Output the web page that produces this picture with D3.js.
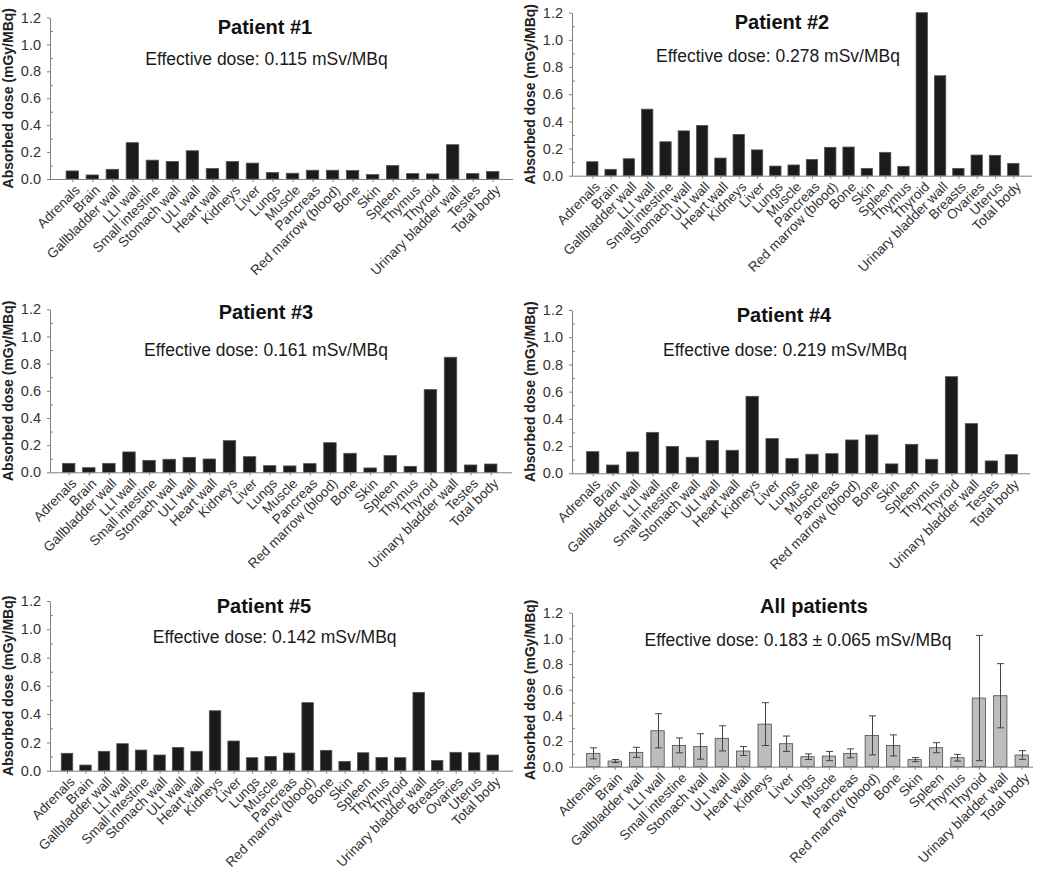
<!DOCTYPE html>
<html><head><meta charset="utf-8">
<script src="https://cdn.jsdelivr.net/npm/d3@7"></script>
<style>
body{margin:0;background:#fff}
svg{display:block}
text{font-family:"Liberation Sans",Arial,sans-serif}
</style>
</head><body>
<svg id="chart" width="1050" height="869"></svg>
<script>
// ---------- DATA ----------
const organsMale = ["Adrenals","Brain","Gallbladder wall","LLI wall","Small intestine","Stomach wall","ULI wall","Heart wall","Kidneys","Liver","Lungs","Muscle","Pancreas","Red marrow (blood)","Bone","Skin","Spleen","Thymus","Thyroid","Urinary bladder wall","Testes","Total body"];
const organsFemale = ["Adrenals","Brain","Gallbladder wall","LLI wall","Small intestine","Stomach wall","ULI wall","Heart wall","Kidneys","Liver","Lungs","Muscle","Pancreas","Red marrow (blood)","Bone","Skin","Spleen","Thymus","Thyroid","Urinary bladder wall","Breasts","Ovaries","Uterus","Total body"];
const organsAll = ["Adrenals","Brain","Gallbladder wall","LLI wall","Small intestine","Stomach wall","ULI wall","Heart wall","Kidneys","Liver","Lungs","Muscle","Pancreas","Red marrow (blood)","Bone","Skin","Spleen","Thymus","Thyroid","Urinary bladder wall","Total body"];

const patient1 = [0.060,0.030,0.072,0.270,0.140,0.130,0.210,0.078,0.130,0.118,0.048,0.043,0.065,0.065,0.063,0.033,0.100,0.040,0.038,0.255,0.040,0.055];
const patient2 = [0.103,0.047,0.125,0.490,0.250,0.330,0.370,0.130,0.304,0.190,0.071,0.079,0.120,0.209,0.211,0.054,0.172,0.069,1.200,0.736,0.054,0.152,0.150,0.091];
const patient3 = [0.066,0.034,0.066,0.150,0.088,0.096,0.110,0.098,0.233,0.115,0.049,0.047,0.064,0.218,0.140,0.032,0.123,0.044,0.609,0.847,0.054,0.061];
const patient4 = [0.159,0.061,0.157,0.301,0.198,0.118,0.242,0.169,0.566,0.255,0.108,0.140,0.144,0.245,0.282,0.069,0.213,0.103,0.710,0.365,0.091,0.137];
const patient5 = [0.123,0.040,0.137,0.191,0.146,0.111,0.165,0.137,0.424,0.210,0.092,0.101,0.125,0.481,0.144,0.066,0.127,0.094,0.092,0.554,0.073,0.130,0.127,0.111];
const meanAll = [0.104,0.044,0.112,0.280,0.166,0.158,0.221,0.122,0.332,0.179,0.078,0.083,0.104,0.244,0.166,0.055,0.148,0.070,0.535,0.553,0.091];
const sdAll   = [0.043,0.012,0.039,0.133,0.058,0.099,0.098,0.035,0.167,0.060,0.022,0.036,0.035,0.152,0.082,0.016,0.039,0.026,0.488,0.250,0.034];

const titles = ["Patient #1","Patient #2","Patient #3","Patient #4","Patient #5","All patients"];
const subtitles = ["Effective dose: 0.115 mSv/MBq","Effective dose: 0.278 mSv/MBq","Effective dose: 0.161 mSv/MBq","Effective dose: 0.219 mSv/MBq","Effective dose: 0.142 mSv/MBq","Effective dose: 0.183 \u00b1 0.065 mSv/MBq"];
const yTicks = [0,0.2,0.4,0.6,0.8,1.0,1.2];
const yMinor = [0.1,0.3,0.5,0.7,0.9,1.1];
const yLabel = "Absorbed dose (mGy/MBq)";

// ---------- LAYOUT ----------
const layout = [
  {x0:50,  x1:513,  c0:72.3,  c1:492.7,  yT:17.5, yB:179,   tx:265, ty:34,    sx:266.5, sy:65.3},
  {x0:572, x1:1032, c0:592.3, c1:1013.3, yT:12.7, yB:175.7, tx:782, ty:29,    sx:778,   sy:61.7},
  {x0:50,  x1:512,  c0:68.7,  c1:490.7,  yT:309.3,yB:472.3, tx:266, ty:319,   sx:266,   sy:356},
  {x0:572, x1:1030, c0:592.7, c1:1011.3, yT:310,  yB:473.3, tx:784, ty:322,   sx:785,   sy:355.7},
  {x0:50,  x1:513,  c0:67,    c1:492.7,  yT:601,  yB:770.7, tx:264, ty:612.7, sx:274.7, sy:643.3},
  {x0:572, x1:1033, c0:593.3, c1:1021.7, yT:612.7,yB:766.7, tx:814, ty:613.3, sx:798,   sy:646}
];

const panels = [
  {organs:organsMale,   values:patient1},
  {organs:organsFemale, values:patient2},
  {organs:organsMale,   values:patient3},
  {organs:organsMale,   values:patient4},
  {organs:organsFemale, values:patient5},
  {organs:organsAll,    values:meanAll, sd:sdAll}
];

const svg = d3.select("#chart");
const axisColor = "#808080";

panels.forEach((p, i) => {
  const L = layout[i];
  const g = svg.append("g");
  const y = d3.scaleLinear().domain([0,1.2]).range([L.yB, L.yT]);
  const x = d3.scalePoint().domain(p.organs).range([L.c0, L.c1]);
  const bw = x.step() * 0.62;
  const data = p.organs.map((o,k)=>({o, v:p.values[k], s:p.sd ? p.sd[k] : null}));

  // bars
  g.selectAll("rect.bar").data(data).join("rect")
    .attr("class","bar")
    .attr("x", d => x(d.o) - bw/2)
    .attr("y", d => y(d.v))
    .attr("width", bw)
    .attr("height", d => y(0) - y(d.v))
    .attr("fill", p.sd ? "#bdbdbd" : "#1b1b1b")
    .attr("stroke", p.sd ? "#4a4a4a" : "#555")
    .attr("stroke-width", 0.8);

  // error bars
  if (p.sd) {
    const eg = g.append("g").attr("stroke","#444").attr("stroke-width",1);
    const cw = 3.5;
    data.forEach(d => {
      const xc = Math.round(x(d.o)) + 0.5;
      eg.append("line").attr("x1",xc).attr("x2",xc).attr("y1",y(d.v+d.s)).attr("y2",y(d.v-d.s));
      eg.append("line").attr("x1",xc-cw).attr("x2",xc+cw).attr("y1",y(d.v+d.s)).attr("y2",y(d.v+d.s));
      eg.append("line").attr("x1",xc-cw).attr("x2",xc+cw).attr("y1",y(d.v-d.s)).attr("y2",y(d.v-d.s));
    });
  }

  // y axis
  const ya = g.append("g").attr("transform",`translate(${L.x0},0)`)
    .call(d3.axisLeft(y).tickValues(yTicks).tickFormat(d3.format(".1f")).tickSize(3).tickSizeOuter(0).tickPadding(6));
  ya.select(".domain").attr("stroke", axisColor);
  ya.selectAll(".tick line").attr("stroke", axisColor);
  ya.selectAll(".tick text").attr("fill","#333").style("font-size","14.5px");
  const ym = g.append("g").attr("transform",`translate(${L.x0},0)`)
    .call(d3.axisRight(y).tickValues(yMinor).tickFormat("").tickSize(3).tickSizeOuter(0));
  ym.select(".domain").remove();
  ym.selectAll(".tick line").attr("stroke", axisColor);

  // x axis
  const xa = g.append("g").attr("transform",`translate(0,${L.yB})`)
    .call(d3.axisBottom(x).tickSize(3).tickSizeOuter(0));
  xa.select(".domain").remove();
  xa.selectAll(".tick line").attr("stroke", axisColor);
  xa.selectAll(".tick text")
    .attr("x",0).attr("y",0).attr("dy",0)
    .attr("transform","translate(8,12) rotate(-45)")
    .style("text-anchor","end")
    .style("font-size","13.6px")
    .attr("fill","#333");
  g.append("line").attr("x1",L.x0).attr("x2",L.x1).attr("y1",L.yB+0.5).attr("y2",L.yB+0.5)
    .attr("stroke",axisColor).attr("stroke-width",1);

  // y label
  g.append("text")
    .attr("transform",`translate(${L.x0-37},${(L.yT+L.yB)/2}) rotate(-90)`)
    .attr("text-anchor","middle")
    .style("font-size","14px").style("font-weight","bold").attr("fill","#222")
    .text(yLabel);

  // titles
  g.append("text").attr("x",L.tx).attr("y",L.ty).attr("text-anchor","middle")
    .style("font-size","20px").style("font-weight","bold").attr("fill","#111").text(titles[i]);
  g.append("text").attr("x",L.sx).attr("y",L.sy).attr("text-anchor","middle")
    .style("font-size","17.5px").attr("fill","#1a1a1a").text(subtitles[i]);
});
</script>
</body></html>
